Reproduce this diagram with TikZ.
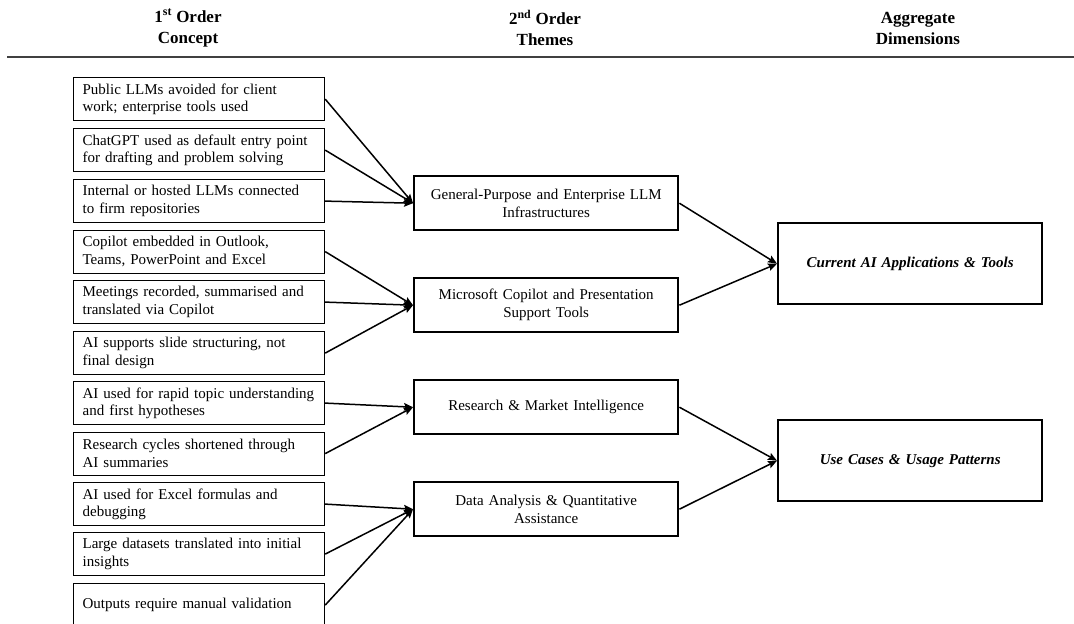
\documentclass[tikz,border=0pt]{standalone}
\usepackage{fontspec}
\setmainfont{Liberation Serif}
\usetikzlibrary{arrows.meta}
\hyphenpenalty=10000
\exhyphenpenalty=10000
\begin{document}
\begin{tikzpicture}[x=1pt,y=-1pt,
  lbox/.style={draw, line width=1.2pt, anchor=north west, minimum width=251pt, minimum height=43pt,
    text width=233pt, inner xsep=9pt, inner ysep=0pt, align=left,
    font=\fontsize{15}{17.5}\selectfont},
  mbox/.style={draw, line width=2.4pt, anchor=north west, minimum width=264pt, minimum height=54pt,
    text width=250pt, inner xsep=7pt, inner ysep=0pt, align=center,
    font=\fontsize{15}{18}\selectfont},
  rbox/.style={draw, line width=2.4pt, anchor=north west, minimum width=264pt, minimum height=81pt,
    text width=250pt, inner xsep=7pt, inner ysep=0pt, align=center,
    font=\fontsize{15}{18}\selectfont\bfseries\itshape},
  head/.style={align=center, font=\fontsize{17}{21}\selectfont\bfseries},
  arr/.style={line width=1.5pt, -{Stealth[length=9pt,width=7.5pt,inset=1.5pt]}}
]
\useasboundingbox (0,0) rectangle (1074,624);

% headers
\node[head] (h1) at (188,28) {1\textsuperscript{st} Order\\Concept};
\node[head] (h2) at (545,28) {2\textsuperscript{nd} Order\\Themes};
\node[head] (h3) at (918,28) {Aggregate\\Dimensions};
\coordinate (ra) at (7,57);
\coordinate (rb) at (1074,57);
\draw[line width=2pt, black!75] (ra) -- (rb);

% first order
\node[lbox] (l1) at (73,77) {Public LLMs avoided for client\\work; enterprise tools used};
\node[lbox] (l2) at (73,128) {ChatGPT used as default entry point\\for drafting and problem solving};
\node[lbox] (l3) at (73,179) {Internal or hosted LLMs connected\\to firm repositories};
\node[lbox] (l4) at (73,229.5) {Copilot embedded in Outlook,\\Teams, PowerPoint and Excel};
\node[lbox] (l5) at (73,280) {Meetings recorded, summarised and\\translated via Copilot};
\node[lbox] (l6) at (73,331) {AI supports slide structuring, not\\final design};
\node[lbox] (l7) at (73,381) {AI used for rapid topic understanding\\and first hypotheses};
\node[lbox] (l8) at (73,431.5) {Research cycles shortened through\\AI summaries};
\node[lbox] (l9) at (73,482) {AI used for Excel formulas and\\debugging};
\node[lbox] (l10) at (73,532) {Large datasets translated into initial\\insights};
\node[lbox] (l11) at (73,583) {Outputs require manual validation};

% second order
\node[mbox] (m1) at (413,175) {General-Purpose and Enterprise LLM\\Infrastructures};
\node[mbox] (m2) at (413,277) {Microsoft Copilot and Presentation\\Support Tools};
\node[mbox] (m3) at (413,379) {Research \& Market Intelligence};
\node[mbox] (m4) at (413,481) {Data Analysis \& Quantitative\\Assistance};

% aggregate
\node[rbox] (r1) at (777,222) {Current AI Applications \& Tools};
\node[rbox] (r2) at (777,419) {Use Cases \& Usage Patterns};

% connectors
\foreach \i in {1,2,3} \draw[arr] (l\i.east) -- (m1.west);
\foreach \i in {4,5,6} \draw[arr] (l\i.east) -- (m2.west);
\foreach \i in {7,8} \draw[arr] (l\i.east) -- (m3.west);
\foreach \i in {9,10,11} \draw[arr] (l\i.east) -- (m4.west);
\draw[arr] (m1.east) -- (r1.west);
\draw[arr] (m2.east) -- (r1.west);
\draw[arr] (m3.east) -- (r2.west);
\draw[arr] (m4.east) -- (r2.west);
\end{tikzpicture}
\end{document}
